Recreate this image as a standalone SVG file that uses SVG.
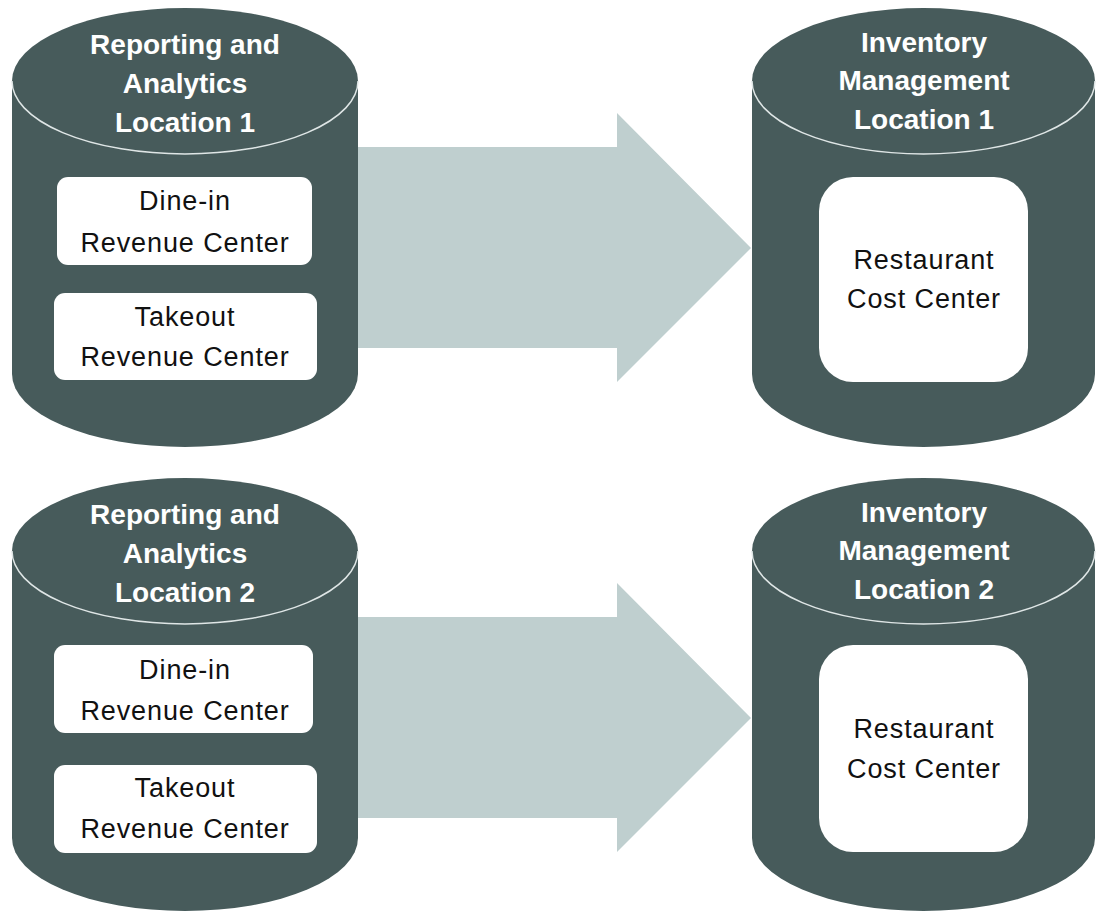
<svg xmlns="http://www.w3.org/2000/svg" width="1097" height="915" viewBox="0 0 1097 915">
  <style>
    .cyl { fill: #475b5b; }
    .cyltop { fill: #475b5b; }
    .rim { fill: none; stroke: #dfe6e6; stroke-width: 1.5; }
    .box { fill: #ffffff; }
    .arrow { fill: #bfcfcf; }
    .title { font-family: "Liberation Sans", Arial, sans-serif; font-weight: bold; font-size: 28px; fill: #ffffff; text-anchor: middle; }
    .label { font-family: "Liberation Sans", Arial, sans-serif; font-size: 27px; fill: #111111; text-anchor: middle; letter-spacing: 0.9px; }
  </style>
  <rect width="1097" height="915" fill="#ffffff"/>

  <g id="connectors">
    <polygon class="arrow" points="340,147 617,147 617,113 751,248 617,382 617,348 340,348"/>
    <polygon class="arrow" points="340,617 617,617 617,583 751,718 617,852 617,818 340,818"/>
  </g>

  <g id="ra-location-1">
    <path class="cyl" d="M12,81 L12,374 A173,73 0 0 0 358,374 L358,81 Z"/>
    <ellipse class="cyltop" cx="185" cy="81" rx="173" ry="73"/>
    <path class="rim" d="M12,81 A173,73 0 0 0 358,81"/>
    <text class="title" x="185" y="54">Reporting and</text>
    <text class="title" x="185" y="93">Analytics</text>
    <text class="title" x="185" y="132">Location 1</text>
    <g id="dinein-1">
      <rect class="box" x="57" y="177" width="255" height="88" rx="11"/>
      <text class="label" x="185" y="210">Dine-in</text>
      <text class="label" x="185" y="252">Revenue Center</text>
    </g>
    <g id="takeout-1">
      <rect class="box" x="54" y="293" width="263" height="87" rx="11"/>
      <text class="label" x="185" y="326">Takeout</text>
      <text class="label" x="185" y="366">Revenue Center</text>
    </g>
  </g>

  <g id="im-location-1">
    <path class="cyl" d="M752,81 L752,374 A171.5,73 0 0 0 1095,374 L1095,81 Z"/>
    <ellipse class="cyltop" cx="923.5" cy="81" rx="171.5" ry="73"/>
    <path class="rim" d="M752,81 A171.5,73 0 0 0 1095,81"/>
    <text class="title" x="924" y="52">Inventory</text>
    <text class="title" x="924" y="90">Management</text>
    <text class="title" x="924" y="129">Location 1</text>
    <g id="cost-1">
      <rect class="box" x="819" y="177" width="209" height="205" rx="34"/>
      <text class="label" x="924" y="269">Restaurant</text>
      <text class="label" x="924" y="308">Cost Center</text>
    </g>
  </g>

  <g id="ra-location-2">
    <path class="cyl" d="M12,551 L12,838 A173,73 0 0 0 358,838 L358,551 Z"/>
    <ellipse class="cyltop" cx="185" cy="551" rx="173" ry="73"/>
    <path class="rim" d="M12,551 A173,73 0 0 0 358,551"/>
    <text class="title" x="185" y="524">Reporting and</text>
    <text class="title" x="185" y="563">Analytics</text>
    <text class="title" x="185" y="602">Location 2</text>
    <g id="dinein-2">
      <rect class="box" x="54" y="645" width="259" height="88" rx="11"/>
      <text class="label" x="185" y="679">Dine-in</text>
      <text class="label" x="185" y="720">Revenue Center</text>
    </g>
    <g id="takeout-2">
      <rect class="box" x="54" y="765" width="263" height="88" rx="11"/>
      <text class="label" x="185" y="797">Takeout</text>
      <text class="label" x="185" y="838">Revenue Center</text>
    </g>
  </g>

  <g id="im-location-2">
    <path class="cyl" d="M752,551 L752,838 A171.5,73 0 0 0 1095,838 L1095,551 Z"/>
    <ellipse class="cyltop" cx="923.5" cy="551" rx="171.5" ry="73"/>
    <path class="rim" d="M752,551 A171.5,73 0 0 0 1095,551"/>
    <text class="title" x="924" y="522">Inventory</text>
    <text class="title" x="924" y="560">Management</text>
    <text class="title" x="924" y="599">Location 2</text>
    <g id="cost-2">
      <rect class="box" x="819" y="645" width="209" height="207" rx="34"/>
      <text class="label" x="924" y="738">Restaurant</text>
      <text class="label" x="924" y="778">Cost Center</text>
    </g>
  </g>
</svg>
